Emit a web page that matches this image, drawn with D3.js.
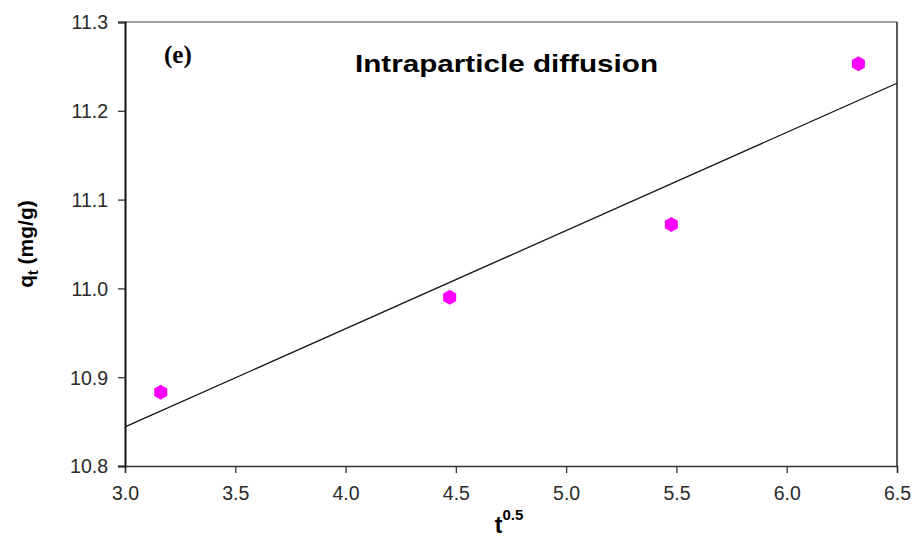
<!DOCTYPE html>
<html>
<head>
<meta charset="utf-8">
<script src="https://cdn.jsdelivr.net/npm/d3@7"></script>
<style>
  body { margin: 0; background: #fff; }
  svg { display: block; }
</style>
</head>
<body>
<svg width="914" height="538"></svg>
<script>
// data
const tValues = [3.162, 4.472, 5.477, 6.325];   // t^0.5
const qValues = [10.883, 10.990, 11.072, 11.253]; // q_t (mg/g)

// linear fit, read at the two ends of the axis
const fitX = [3.0, 6.5];
const fitY = [10.844, 11.231];

const xTicks = [3.0, 3.5, 4.0, 4.5, 5.0, 5.5, 6.0, 6.5];
const yTicks = [10.8, 10.9, 11.0, 11.1, 11.2, 11.3];

const svg = d3.select("svg");
const mLeft = 125, mRight = 897, mTop = 22, mBottom = 466;

const x = d3.scaleLinear().domain([3.0, 6.5]).range([mLeft, mRight]);
const y = d3.scaleLinear().domain([10.8, 11.3]).range([mBottom, mTop]);

// frame (top and right)
svg.append("line")
    .attr("x1", mLeft).attr("x2", mRight)
    .attr("y1", mTop).attr("y2", mTop)
    .attr("stroke", "#444").attr("stroke-width", 1.2);
svg.append("line")
    .attr("x1", mRight).attr("x2", mRight)
    .attr("y1", mTop).attr("y2", mBottom)
    .attr("stroke", "#222").attr("stroke-width", 1.5);

// axes
const xAxis = svg.append("g")
    .attr("transform", `translate(0, ${mBottom})`)
    .call(d3.axisBottom(x).tickValues(xTicks).tickFormat(d3.format(".1f")).tickSizeOuter(0).tickSize(7));

const yAxis = svg.append("g")
    .attr("transform", `translate(${mLeft}, 0)`)
    .call(d3.axisLeft(y).tickValues(yTicks).tickFormat(d3.format(".1f")).tickSizeOuter(0).tickSize(7));

xAxis.select(".domain").attr("stroke", "#333").attr("stroke-width", 1.5);
yAxis.select(".domain").attr("stroke", "#111").attr("stroke-width", 2);
[xAxis, yAxis].forEach(a => {
    a.selectAll(".tick line").attr("stroke", "#333").attr("stroke-width", 1.3);
    a.selectAll(".tick text")
        .attr("font-family", "Liberation Sans, Arial, sans-serif")
        .attr("font-size", 19.5)
        .attr("fill", "#2a2a2a");
});
xAxis.selectAll(".tick text").attr("dy", "0").attr("y", 34);
yAxis.selectAll(".tick text").attr("x", -17).attr("dy", "0.35em");

// fit line
svg.append("line")
    .attr("x1", x(fitX[0])).attr("y1", y(fitY[0]))
    .attr("x2", x(fitX[1])).attr("y2", y(fitY[1]))
    .attr("stroke", "#111").attr("stroke-width", 1.3);

// hexagon markers
const r = 7.5;
const hex = d3.range(6).map(i => {
    const a = Math.PI / 3 * i - Math.PI / 2;
    return [r * Math.cos(a), r * Math.sin(a)];
});
const hexPath = "M" + hex.map(p => p.join(",")).join("L") + "Z";

svg.selectAll(".dot")
    .data(tValues)
    .enter()
    .append("path")
    .attr("class", "dot")
    .attr("d", hexPath)
    .attr("transform", (d, i) => `translate(${x(d)}, ${y(qValues[i])})`)
    .attr("fill", "#ff00ff");

// labels
svg.append("text")
    .attr("x", 164).attr("y", 63)
    .attr("font-family", "Liberation Serif, Times New Roman, serif")
    .attr("font-weight", "bold")
    .attr("font-size", 25)
    .text("(e)");

svg.append("text")
    .attr("x", 355).attr("y", 72)
    .attr("font-family", "Liberation Sans, Arial, sans-serif")
    .attr("font-weight", "bold")
    .attr("font-size", 24)
    .attr("textLength", 303)
    .attr("lengthAdjust", "spacingAndGlyphs")
    .text("Intraparticle diffusion");

// y title
const yTitle = svg.append("text")
    .attr("transform", `translate(33, ${(mTop + mBottom) / 2}) rotate(-90)`)
    .attr("text-anchor", "middle")
    .attr("font-family", "Liberation Sans, Arial, sans-serif")
    .attr("font-weight", "bold")
    .attr("font-size", 21);
yTitle.append("tspan").text("q");
yTitle.append("tspan").attr("font-size", 14).attr("dy", 5).text("t");
yTitle.append("tspan").attr("dy", -5).text(" (mg/g)");

// x title
const xTitle = svg.append("text")
    .attr("x", 509).attr("y", 533)
    .attr("text-anchor", "middle")
    .attr("font-family", "Liberation Sans, Arial, sans-serif")
    .attr("font-weight", "bold")
    .attr("font-size", 23);
xTitle.append("tspan").text("t");
xTitle.append("tspan").attr("font-size", 15).attr("dy", -13).text("0.5");
</script>
</body>
</html>
